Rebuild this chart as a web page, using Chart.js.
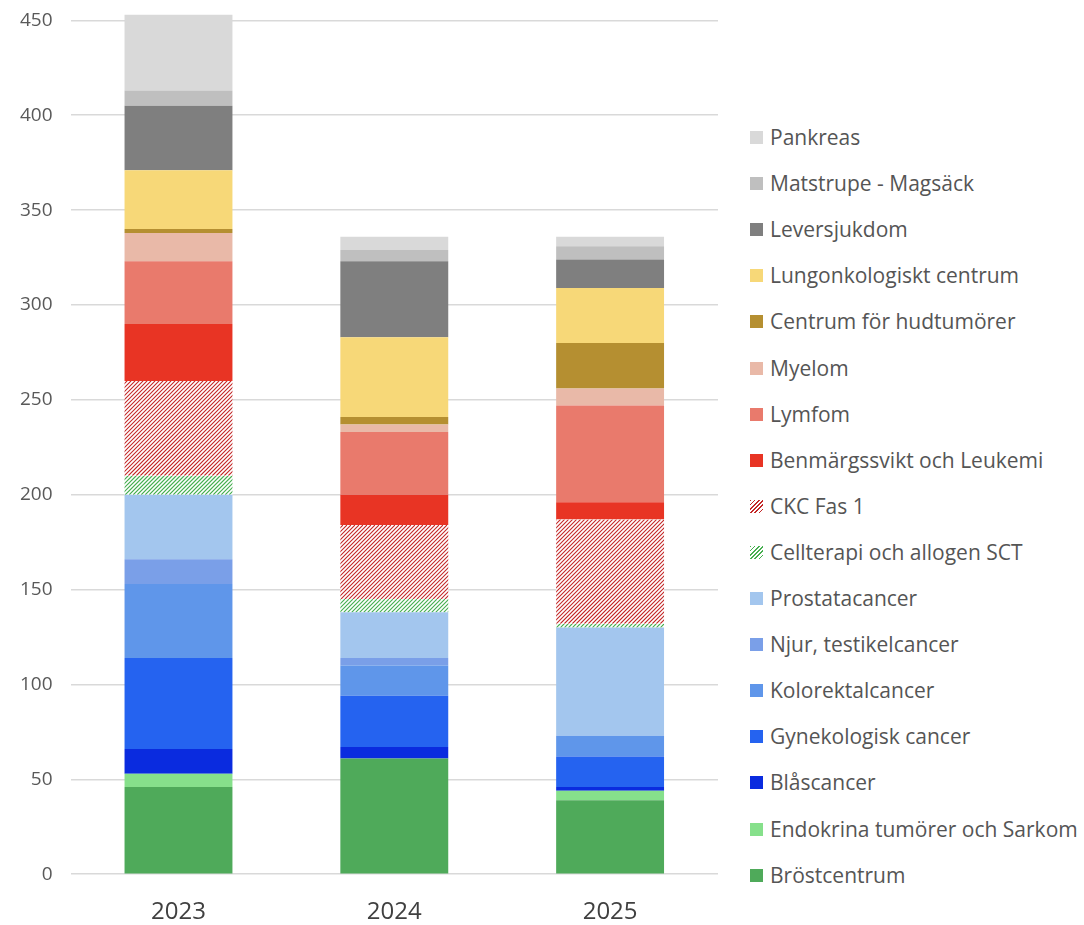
<!DOCTYPE html>
<html>
<head>
<meta charset="utf-8">
<script src="https://cdn.jsdelivr.net/npm/chart.js@4.4.1/dist/chart.umd.min.js"></script>
<style>
  body { margin: 0; background: #fff; overflow: hidden; }
  #wrap { position: relative; width: 1084px; height: 925px; overflow: hidden; }
  #chartBox { position: absolute; left: 0; top: -28px; width: 740px; height: 979px; }
  #legend { position: absolute; left: 750px; top: 0; font-family: "Open Sans", Lato, sans-serif; font-size: 21px; color: #555555; }
  .item { position: absolute; left: 0; white-space: nowrap; height: 26px; line-height: 26px; }
  .sw { position: absolute; left: 0; top: 7px; width: 13px; height: 13px; }
  .txt { position: absolute; left: 20px; top: 0; }
</style>
</head>
<body>
<div id="wrap">
  <div id="chartBox"><canvas id="chart"></canvas></div>
  <div id="legend"></div>
</div>
<script>
const categories = ['2023', '2024', '2025'];

// bottom to top, same order as the stack
const brostcentrum = [46, 61, 39];
const endokrina = [7, 0, 5];
const blascancer = [13, 6, 2];
const gynekologisk = [48, 27, 16];
const kolorektal = [39, 16, 11];
const njur = [13, 4, 0];
const prostata = [34, 24, 57];
const cellterapi = [10, 7, 2];
const ckc = [50, 39, 55];
const benmarg = [30, 16, 9];
const lymfom = [33, 33, 51];
const myelom = [15, 4, 9];
const hudtumorer = [2, 4, 24];
const lungonkologi = [31, 42, 29];
const leversjukdom = [34, 40, 15];
const matstrupe = [8, 6, 7];
const pankreas = [40, 7, 5];

const yTicks = [0, 50, 100, 150, 200, 250, 300, 350, 400, 450];

const series = [
  { label: 'Bröstcentrum', data: brostcentrum, color: '#4faa5a' },
  { label: 'Endokrina tumörer och Sarkom', data: endokrina, color: '#86e08b' },
  { label: 'Blåscancer', data: blascancer, color: '#0a2bdf' },
  { label: 'Gynekologisk cancer', data: gynekologisk, color: '#2563f0' },
  { label: 'Kolorektalcancer', data: kolorektal, color: '#5f96ea' },
  { label: 'Njur, testikelcancer', data: njur, color: '#7a9fe8' },
  { label: 'Prostatacancer', data: prostata, color: '#a3c6ee' },
  { label: 'Cellterapi och allogen SCT', data: cellterapi, color: '#46af50', hatched: true },
  { label: 'CKC Fas 1', data: ckc, color: '#c42828', hatched: true },
  { label: 'Benmärgssvikt och Leukemi', data: benmarg, color: '#e83424' },
  { label: 'Lymfom', data: lymfom, color: '#e97a6c' },
  { label: 'Myelom', data: myelom, color: '#e9b9a8' },
  { label: 'Centrum för hudtumörer', data: hudtumorer, color: '#b58f31' },
  { label: 'Lungonkologiskt centrum', data: lungonkologi, color: '#f7d878' },
  { label: 'Leversjukdom', data: leversjukdom, color: '#7f7f7f' },
  { label: 'Matstrupe - Magsäck', data: matstrupe, color: '#bfbfbf' },
  { label: 'Pankreas', data: pankreas, color: '#d9d9d9' }
];

const datasets = series.map(s => ({
  label: s.label,
  data: s.data,
  backgroundColor: s.hatched ? '#ffffff' : s.color,
  hatchColor: s.hatched ? s.color : null,
  borderWidth: 0,
  barPercentage: 0.5,
  categoryPercentage: 1
}));

// stripes "///" drawn inside the bars of the hatched datasets
const hatchPlugin = {
  id: 'hatch',
  afterDatasetsDraw(chart) {
    const c = chart.ctx;
    chart.data.datasets.forEach((ds, i) => {
      if (!ds.hatchColor) return;
      chart.getDatasetMeta(i).data.forEach(bar => {
        const p = bar.getProps(['x', 'y', 'base', 'width'], true);
        const left = p.x - p.width / 2;
        const right = p.x + p.width / 2;
        const top = Math.min(p.y, p.base);
        const bottom = Math.max(p.y, p.base);
        if (bottom - top < 0.5) return;
        c.save();
        c.beginPath();
        c.rect(left, top, right - left, bottom - top);
        c.clip();
        c.strokeStyle = ds.hatchColor;
        c.lineWidth = 1.1;
        c.beginPath();
        const step = 4;
        for (let k = Math.floor((left + top) / step) * step; k <= right + bottom; k += step) {
          c.moveTo(k - bottom, bottom);
          c.lineTo(k - top, top);
        }
        c.stroke();
        c.restore();
      });
    });
  }
};

const ctx = document.getElementById('chart').getContext('2d');
new Chart(ctx, {
  type: 'bar',
  data: { labels: categories, datasets: datasets },
  plugins: [hatchPlugin],
  options: {
    responsive: true,
    maintainAspectRatio: false,
    animation: false,
    layout: { padding: { left: 2, right: 22, top: 0, bottom: 0 } },
    plugins: {
      legend: { display: false },
      tooltip: { enabled: false }
    },
    scales: {
      x: {
        stacked: true,
        grid: { display: false, drawTicks: false },
        border: { display: false },
        ticks: {
          color: '#404040',
          padding: 24,
          font: { family: '"Open Sans", Lato, sans-serif', size: 24 }
        }
      },
      y: {
        stacked: true,
        min: 0,
        max: 460,
        afterBuildTicks: axis => {
          axis.ticks = yTicks.map(v => ({ value: v }));
        },
        grid: { color: '#d9d9d9', lineWidth: 1.5, drawTicks: false },
        border: { display: false },
        ticks: {
          color: '#595959',
          padding: 18,
          font: { family: '"Open Sans", Lato, sans-serif', size: 19 }
        }
      }
    }
  }
});

// legend, top item first like the reference
const legend = document.getElementById('legend');
series.slice().reverse().forEach((s, i) => {
  const item = document.createElement('div');
  item.className = 'item';
  item.style.top = (137 - 13 + i * 46.1) + 'px';
  const sw = document.createElement('div');
  sw.className = 'sw';
  if (s.hatched) {
    sw.style.background = 'repeating-linear-gradient(135deg, ' + s.color + ' 0 1.2px, #fff 1.2px 3px)';
  } else {
    sw.style.background = s.color;
  }
  const txt = document.createElement('span');
  txt.className = 'txt';
  txt.textContent = s.label;
  item.appendChild(sw);
  item.appendChild(txt);
  legend.appendChild(item);
});
</script>
</body>
</html>
